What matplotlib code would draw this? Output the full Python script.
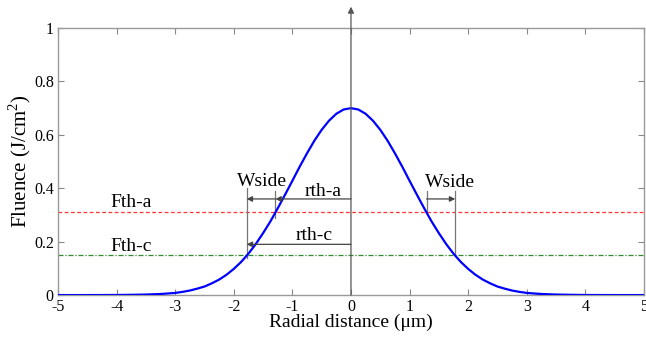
import matplotlib
matplotlib.use("Agg")
import matplotlib.pyplot as plt
import numpy as np

plt.rcParams['font.family'] = ['Liberation Serif', 'DejaVu Serif']
plt.rcParams['mathtext.fontset'] = 'custom'
plt.rcParams['mathtext.rm'] = 'Liberation Serif'

# Half profile (r >= 0), mirrored for r < 0
r_half = [0.0, 0.125, 0.25, 0.375, 0.5, 0.625, 0.75, 0.875, 1.0, 1.125, 1.25, 1.375,
          1.5, 1.625, 1.75, 1.875, 2.0, 2.125, 2.25, 2.375, 2.5, 2.625, 2.75, 2.875,
          3.0, 3.25, 3.5, 3.75, 4.0, 4.5, 5.0]
f_half = [0.700, 0.695, 0.679, 0.653, 0.619, 0.578, 0.531, 0.481, 0.428, 0.376, 0.325, 0.276,
          0.232, 0.191, 0.155, 0.124, 0.098, 0.076, 0.058, 0.044, 0.032, 0.024, 0.017, 0.012,
          0.008, 0.004, 0.002, 0.001, 0.0003, 0.0, 0.0]

fth_a = 0.31
fth_c = 0.15
rth_a = 1.29
rth_c = 1.78

xticks = [-5, -4, -3, -2, -1, 0, 1, 2, 3, 4, 5]
yticks = [0, 0.2, 0.4, 0.6, 0.8, 1]
yticklabels = ['0', '0.2', '0.4', '0.6', '0.8', '1']

r = np.array([-v for v in r_half[::-1]] + r_half[1:])
f = np.array(f_half[::-1] + f_half[1:])

fig = plt.figure(figsize=(6.46, 3.38), dpi=100)
ax = fig.add_axes([0.0898, 0.127, 0.907, 0.79])

ax.plot(r, f, color='#0000ff', lw=1.6, zorder=3)
ax.axhline(fth_a, color='#ff3333', lw=0.9, ls=(0, (3, 2)), zorder=2)
ax.axhline(fth_c, color='#2e8b2e', lw=0.9, ls=(0, (4, 1.5, 1, 1.5)), zorder=2)

ax.set_xlim(-5, 5)
ax.set_ylim(0, 1)
ax.set_xticks(xticks)
ax.set_xticklabels([str(t) for t in xticks])
ax.set_yticks(yticks)
ax.set_yticklabels(yticklabels)
ax.tick_params(direction='in', top=True, right=True, length=4, width=0.8,
               color='#888888', labelsize=11.5, pad=3)
for s in ax.spines.values():
    s.set_color('#999999')
    s.set_linewidth(1.0)

ax.set_xlabel('Radial distance (μm)', fontsize=14, labelpad=-1)
ax.set_ylabel('Fluence (J/cm$^2$)', fontsize=15, labelpad=1)

gray = '#777777'
# central vertical arrow
ax.annotate('', xy=(0, 1.08), xytext=(0, 0), annotation_clip=False,
            arrowprops=dict(arrowstyle='-|>', color='#555555', lw=0.9,
                            mutation_scale=9, shrinkA=0, shrinkB=0))

# vertical guide lines
ax.plot([-rth_c, -rth_c], [fth_c - 0.01, 0.40], color=gray, lw=0.9)
ax.plot([-rth_a, -rth_a], [fth_a - 0.02, 0.39], color=gray, lw=0.9)
ax.plot([rth_a, rth_a], [fth_a, 0.39], color=gray, lw=0.9)
ax.plot([rth_c, rth_c], [fth_c, 0.39], color=gray, lw=0.9)

ap = dict(arrowstyle='-|>', color='#444444', lw=0.9, mutation_scale=8, shrinkA=0, shrinkB=0)
ax.annotate('', xy=(-rth_a, 0.36), xytext=(0, 0.36), arrowprops=ap)
ax.annotate('', xy=(-rth_c, 0.36), xytext=(-rth_a, 0.36), arrowprops=ap)
ax.annotate('', xy=(-rth_c, 0.19), xytext=(0, 0.19), arrowprops=ap)
ax.annotate('', xy=(rth_c, 0.36), xytext=(rth_a, 0.36), arrowprops=ap)

fs = 14
ax.text(-1.52, 0.41, 'Wside', fontsize=fs, ha='center', va='baseline')
ax.text(-0.48, 0.371, 'rth-a', fontsize=fs, ha='center', va='baseline')
ax.text(-0.63, 0.206, 'rth-c', fontsize=fs, ha='center', va='baseline')
ax.text(1.69, 0.405, 'Wside', fontsize=fs, ha='center', va='baseline')
ax.text(-3.75, 0.33, 'Fth-a', fontsize=fs, ha='center', va='baseline')
ax.text(-3.75, 0.165, 'Fth-c', fontsize=fs, ha='center', va='baseline')

fig.savefig('out.png', dpi=100)
